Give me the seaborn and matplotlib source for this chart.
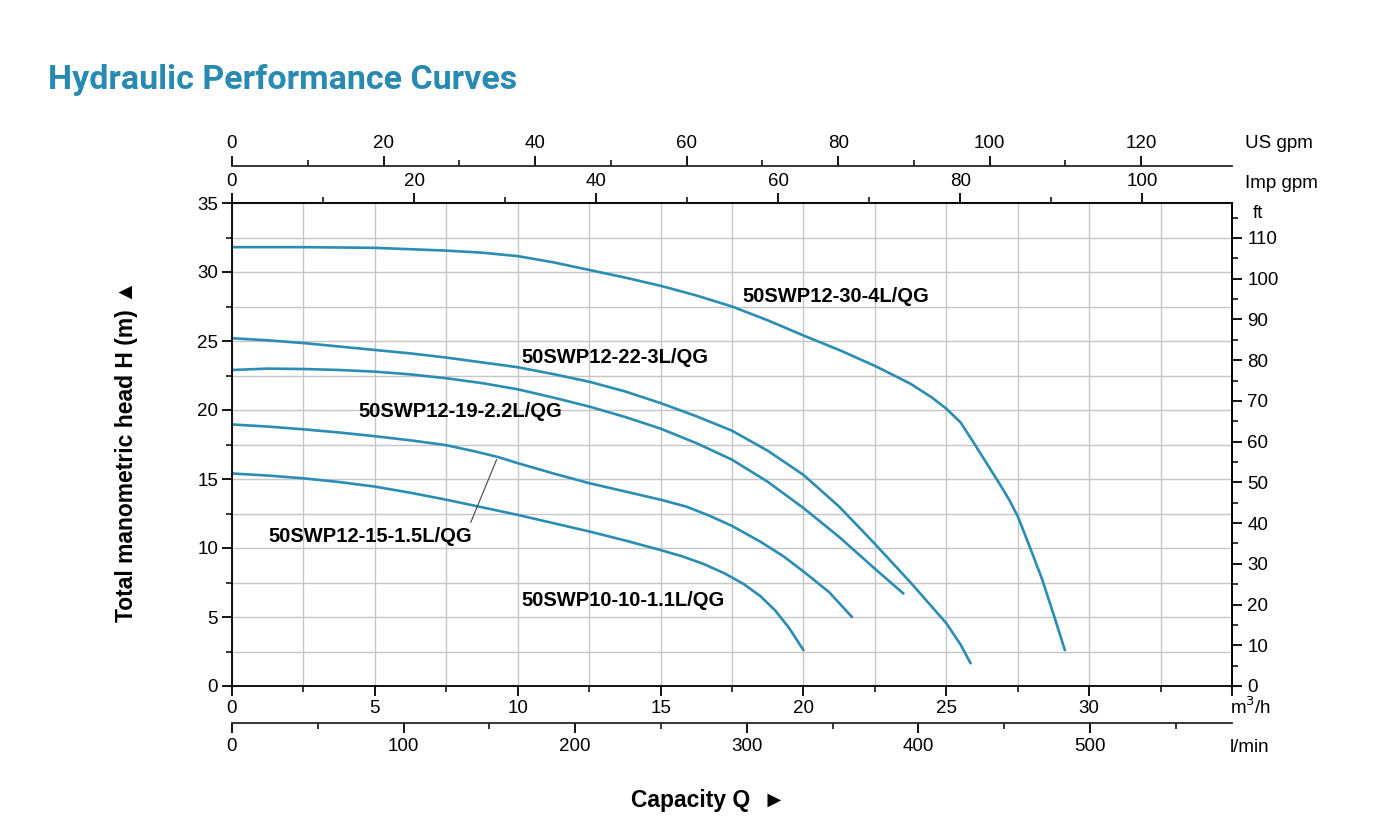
import pandas as pd
import seaborn as sns
import matplotlib.pyplot as plt
from matplotlib.ticker import MultipleLocator, FixedLocator

# =====================================================
# DATA (capacity Q in m3/h, head H in m)
# =====================================================
models = [
    "50SWP12-30-4L/QG",
    "50SWP12-22-3L/QG",
    "50SWP12-19-2.2L/QG",
    "50SWP12-15-1.5L/QG",
    "50SWP10-10-1.1L/QG",
]

q_30_4 = [0, 2.5, 5, 7.5, 8.75, 10, 11.25, 12.5, 13.75, 15, 16.25, 17.5, 18.75, 20, 21.25,
          22.5, 23.75, 24.5, 25, 25.5, 26, 26.5, 26.85, 27.2, 27.5, 27.9, 28.36, 28.8, 29.15]
h_30_4 = [31.8, 31.8, 31.75, 31.55, 31.4, 31.15, 30.7, 30.15, 29.6, 29.0, 28.3, 27.5, 26.5, 25.4, 24.35,
          23.2, 21.9, 20.9, 20.1, 19.1, 17.5, 15.85, 14.7, 13.5, 12.3, 10.2, 7.7, 4.9, 2.6]

q_22_3 = [0, 1.25, 2.5, 3.75, 5, 6.25, 7.5, 8.75, 10, 11.25, 12.5, 13.75, 15, 16.25, 17.5,
          18.75, 20, 21.25, 22.5, 23.75, 25, 25.5, 25.85]
h_22_3 = [25.2, 25.05, 24.85, 24.6, 24.35, 24.1, 23.8, 23.45, 23.1, 22.6, 22.05, 21.35, 20.5, 19.55, 18.5,
          17.05, 15.3, 13.0, 10.3, 7.5, 4.55, 3.0, 1.65]

q_19_22 = [0, 1.25, 2.5, 3.75, 5, 6.25, 7.5, 8.75, 10, 11.25, 12.5, 13.75, 15, 16.25, 17.5,
           18.75, 20, 21.25, 22.5, 23.5]
h_19_22 = [22.9, 23.0, 22.97, 22.9, 22.78, 22.58, 22.3, 21.95, 21.5, 20.9, 20.25, 19.5, 18.65, 17.6, 16.4,
           14.8, 12.9, 10.8, 8.5, 6.7]

q_15_15 = [0, 1.25, 2.5, 3.75, 5, 6.25, 7.5, 8.5, 9.3, 10, 11.25, 12.5, 13.75, 15, 15.9, 16.7,
           17.5, 18.5, 19.3, 20, 20.9, 21.7]
h_15_15 = [18.95, 18.8, 18.6, 18.37, 18.1, 17.8, 17.45, 17.0, 16.6, 16.15, 15.4, 14.7, 14.1, 13.5, 13.0, 12.35,
           11.6, 10.45, 9.4, 8.3, 6.8, 5.0]

q_10_11 = [0, 1.25, 2.5, 3.75, 5, 6.25, 7.5, 8.75, 10, 11.25, 12.5, 13.75, 15, 15.75, 16.5, 17.25,
           17.9, 18.5, 19.0, 19.5, 20.0]
h_10_11 = [15.4, 15.25, 15.05, 14.78, 14.45, 14.0, 13.5, 12.95, 12.4, 11.8, 11.2, 10.55, 9.85, 9.4, 8.85, 8.15,
           7.4, 6.5, 5.5, 4.2, 2.6]

# label anchor positions (left edge, centre) in data units
label_x = [17.87, 10.14, 4.41, 1.26, 10.14]
label_y = [28.26, 23.84, 19.86, 10.8, 6.16]

# unit conversions as drawn on the sheet
US_GPM_PER_M3H = 3.771
IMP_GPM_PER_M3H = 3.138
LMIN_PER_M3H = 16.65
FT_PER_M = 3.388

CURVE = "#2a8db3"
TITLE = "#2889b3"
GRID = "#c6c6c6"

q_all = [q_30_4, q_22_3, q_19_22, q_15_15, q_10_11]
h_all = [h_30_4, h_22_3, h_19_22, h_15_15, h_10_11]

rows = []
for name, qs, hs in zip(models, q_all, h_all):
    for q, h in zip(qs, hs):
        rows.append({"model": name, "q": q, "h": h})
df = pd.DataFrame(rows)

# =====================================================
# PLOT
# =====================================================
sns.set_style("ticks")
plt.rcParams["font.family"] = ["Liberation Sans", "DejaVu Sans"]
plt.rcParams["font.size"] = 13
for key in ["text.color", "axes.labelcolor", "xtick.color", "ytick.color"]:
    plt.rcParams[key] = "black"

W, H = 1400, 825
fig = plt.figure(figsize=(14, 8.25), dpi=100)
ax = fig.add_axes([232 / W, 139 / H, 1000 / W, 483 / H])

sns.lineplot(
    data=df, x="q", y="h", hue="model", estimator=None, sort=False,
    palette=[CURVE] * len(models), linewidth=1.9, legend=False, ax=ax,
)

ax.set_xlim(0, 35)
ax.set_ylim(0, 35)
ax.set_xlabel("")
ax.set_ylabel("")

ax.set_xticks(range(0, 36, 5))
ax.set_xticklabels([str(v) for v in range(0, 31, 5)] + [""])
ax.xaxis.set_minor_locator(MultipleLocator(2.5))
ax.yaxis.set_major_locator(MultipleLocator(5))
ax.yaxis.set_minor_locator(MultipleLocator(2.5))
ax.grid(which="both", color=GRID, linewidth=1.0)
ax.set_axisbelow(True)

for s in ax.spines.values():
    s.set_visible(True)
    s.set_color("black")
    s.set_linewidth(1.3)

tick_major = dict(which="major", length=7, width=1.3, color="black", labelcolor="black", labelsize=13.5)
tick_minor = dict(which="minor", length=4.5, width=1.1, color="black")
ax.tick_params(axis="both", direction="out", pad=3, **tick_major)
ax.tick_params(axis="both", direction="out", **tick_minor)

# right: feet
ax_ft = ax.secondary_yaxis("right", functions=(lambda m: m * FT_PER_M, lambda f: f / FT_PER_M))
ax_ft.yaxis.set_major_locator(FixedLocator(range(0, 111, 10)))
ax_ft.yaxis.set_minor_locator(FixedLocator(range(5, 116, 10)))
ax_ft.spines["right"].set_linewidth(1.3)
ax_ft.tick_params(direction="out", pad=4, **tick_major)
ax_ft.tick_params(direction="out", **tick_minor)

# top: Imp gpm (on the frame) and US gpm (above it)
ax_imp = ax.secondary_xaxis("top", functions=(lambda q: q * IMP_GPM_PER_M3H, lambda g: g / IMP_GPM_PER_M3H))
ax_imp.xaxis.set_major_locator(FixedLocator(range(0, 101, 20)))
ax_imp.xaxis.set_minor_locator(FixedLocator(range(10, 91, 20)))
ax_imp.spines["top"].set_linewidth(1.3)
ax_imp.tick_params(direction="out", pad=2, **tick_major)
ax_imp.tick_params(direction="out", **tick_minor)

ax_us = ax.secondary_xaxis(1 + 37 / 483, functions=(lambda q: q * US_GPM_PER_M3H, lambda g: g / US_GPM_PER_M3H))
ax_us.xaxis.set_major_locator(FixedLocator(range(0, 121, 20)))
ax_us.xaxis.set_minor_locator(FixedLocator(range(10, 111, 20)))
ax_us.spines["top"].set_linewidth(1.3)
ax_us.tick_params(direction="out", pad=3, **tick_major)
ax_us.tick_params(direction="out", **tick_minor)

# bottom: l/min below the m3/h scale
ax_l = ax.secondary_xaxis(-37 / 483, functions=(lambda q: q * LMIN_PER_M3H, lambda l: l / LMIN_PER_M3H))
ax_l.xaxis.set_major_locator(FixedLocator(range(0, 501, 100)))
ax_l.xaxis.set_minor_locator(FixedLocator(range(50, 551, 100)))
ax_l.spines["bottom"].set_linewidth(1.3)
ax_l.tick_params(direction="out", pad=4, **tick_major)
ax_l.tick_params(direction="out", **tick_minor)

# curve labels
for name, x, y in zip(models, label_x, label_y):
    ax.text(x, y, name, fontsize=14.5, fontweight="bold", ha="left", va="center")

# leader line for the 15-1.5L label
ax.annotate("", xy=(9.3, 16.6), xytext=(8.32, 11.67),
            arrowprops=dict(arrowstyle="-", color="#444444", lw=0.8))

# unit captions
fig.text(1245 / W, 1 - 143 / H, "US gpm", fontsize=13.5, ha="left", va="center")
fig.text(1245 / W, 1 - 184 / H, "Imp gpm", fontsize=13.5, ha="left", va="center")
fig.text(1253 / W, 1 - 213 / H, "ft", fontsize=13.5, ha="left", va="center")
fig.text(1230 / W, 1 - 707 / H, "m$^3$/h", fontsize=13.5, ha="left", va="center")
fig.text(1230 / W, 1 - 748 / H, "l/min", fontsize=13.5, ha="left", va="center")

# axis titles
fig.text(126 / W, 1 - 451 / H, "Total manometric head H (m) \u25b2", rotation=90,
         fontsize=16.5, fontweight="bold", ha="center", va="center")
fig.text(708 / W, 1 - 800 / H, "Capacity Q  \u25ba", fontsize=16.5,
         fontweight="bold", ha="center", va="center")

# title
fig.text(48 / W, 1 - 80 / H, "Hydraulic Performance Curves", fontsize=24.5,
         fontweight="bold", color=TITLE, ha="left", va="center",
         family=["Roboto", "DejaVu Sans"])

fig.savefig("out.png", dpi=100)
plt.close(fig)
